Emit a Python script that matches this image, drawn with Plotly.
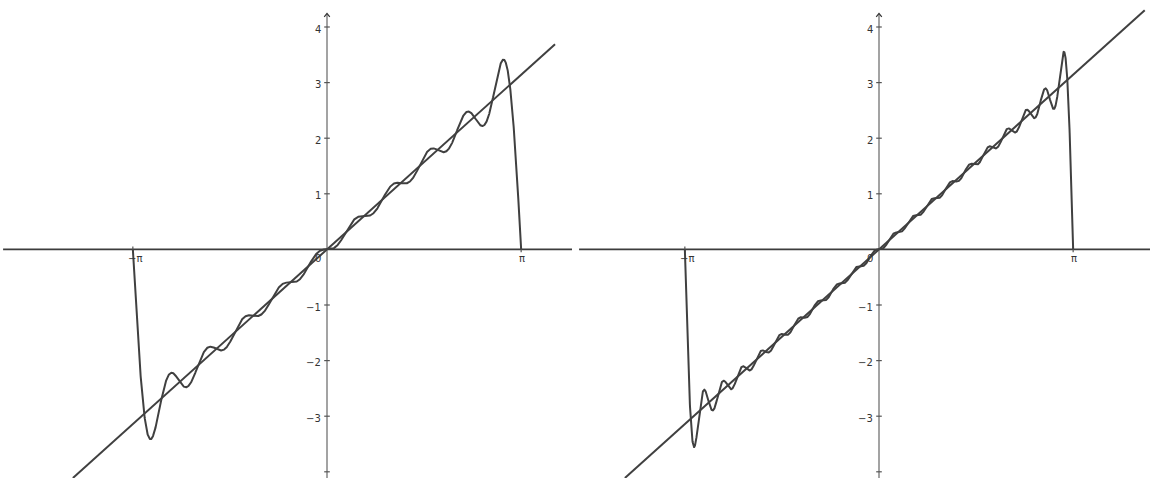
import numpy as np
import plotly.graph_objects as go

# Fourier sine coefficients of f(x)=x on [-pi, pi] (partial sums shown in each panel)
coef_left = [2.0, -1.0, 0.666667, -0.5, 0.4, -0.333333, 0.285714, -0.25, 0.222222, -0.2]
coef_right = [2.0, -1.0, 0.666667, -0.5, 0.4, -0.333333, 0.285714, -0.25, 0.222222, -0.2,
              0.181818, -0.166667, 0.153846, -0.142857, 0.133333, -0.125, 0.117647, -0.111111,
              0.105263, -0.1]

y_ticks = [-4, -3, -2, -1, 1, 2, 3, 4]
y_tick_labels = ["", "−3", "−2", "−1", "1", "2", "3", "4"]
x_tick_vals = [-np.pi, np.pi]
x_tick_labels = ["−π", "π"]
line_end = [3.69, 4.3]   # visible end of the y = x line in each panel

W, H = 1150, 478
PX_X = 61.8   # pixels per x unit
PX_Y = 55.6   # pixels per y unit
Y0_ROW = 249.4

panels = [
    dict(coef=coef_left, dom=(0, 572), origin=327, xname="x", yname="y"),
    dict(coef=coef_right, dom=(576, 1150), origin=879, xname="x2", yname="y2"),
]

fig = go.Figure()
ymax = Y0_ROW / PX_Y
ymin = (Y0_ROW - H) / PX_Y

AXIS_X_COL = "#3c3c3c"
AXIS_Y_COL = "#8c8c8c"
CURVE_COL = "#404040"
FONT = dict(family="DejaVu Sans, Arial, sans-serif", size=10, color="#333333")

for i, p in enumerate(panels):
    xr = ((p["dom"][0] - p["origin"]) / PX_X, (p["dom"][1] - p["origin"]) / PX_X)
    xa, ya = p["xname"], p["yname"]
    # x axis
    fig.add_trace(go.Scatter(x=[xr[0] + 0.05, xr[1]], y=[0, 0], mode="lines",
                             line=dict(color=AXIS_X_COL, width=1.6), xaxis=xa, yaxis=ya,
                             hoverinfo="skip"))
    # y axis
    fig.add_trace(go.Scatter(x=[0, 0], y=[ymin, 4.24], mode="lines",
                             line=dict(color=AXIS_Y_COL, width=1.6), xaxis=xa, yaxis=ya,
                             hoverinfo="skip"))
    # arrow head
    fig.add_trace(go.Scatter(x=[-0.045, 0, 0.045], y=[4.18, 4.245, 4.18], mode="lines",
                             line=dict(color="#333333", width=1.2), xaxis=xa, yaxis=ya,
                             hoverinfo="skip"))
    # y ticks
    fig.add_trace(go.Scatter(x=[0] * len(y_ticks), y=y_ticks, mode="markers",
                             marker=dict(symbol="line-ew", size=4,
                                         line=dict(color="#555555", width=1.2)),
                             xaxis=xa, yaxis=ya, hoverinfo="skip"))
    # x ticks
    fig.add_trace(go.Scatter(x=x_tick_vals, y=[0, 0], mode="markers",
                             marker=dict(symbol="line-ns", size=4,
                                         line=dict(color="#555555", width=1.2)),
                             xaxis=xa, yaxis=ya, hoverinfo="skip"))
    # line y = x
    lx = np.array([ymin, line_end[i]])
    fig.add_trace(go.Scatter(x=lx, y=lx, mode="lines",
                             line=dict(color=CURVE_COL, width=2), xaxis=xa, yaxis=ya,
                             hoverinfo="skip"))
    # partial Fourier sum
    xs = np.linspace(-np.pi, np.pi, 3000)
    ys = np.zeros_like(xs)
    for n, b in enumerate(p["coef"], start=1):
        ys += b * np.sin(n * xs)
    fig.add_trace(go.Scatter(x=xs, y=ys, mode="lines",
                             line=dict(color=CURVE_COL, width=2), xaxis=xa, yaxis=ya,
                             hoverinfo="skip"))
    # labels
    xref = "x" if i == 0 else "x2"
    yref = "y" if i == 0 else "y2"
    for v, t in zip(y_ticks, y_tick_labels):
        if t:
            fig.add_annotation(x=0, y=v, xref=xref, yref=yref, text=t, showarrow=False,
                               xanchor="right", xshift=-4, yshift=-2, font=FONT)
    for v, t in zip(x_tick_vals, x_tick_labels):
        fig.add_annotation(x=v, y=0, xref=xref, yref=yref, text=t, showarrow=False,
                           yanchor="top", yshift=-2, xshift=2 if v < 0 else 1, font=FONT)
    fig.add_annotation(x=0, y=0, xref=xref, yref=yref, text="0", showarrow=False,
                       yanchor="top", xanchor="right", xshift=-4, yshift=-2, font=FONT)

    axis_common = dict(visible=False, showgrid=False, zeroline=False, fixedrange=True)
    dom_x = [p["dom"][0] / W, p["dom"][1] / W]
    key_x = "xaxis" if i == 0 else "xaxis2"
    key_y = "yaxis" if i == 0 else "yaxis2"
    fig.update_layout(**{
        key_x: dict(domain=dom_x, range=list(xr), anchor=ya, **axis_common),
        key_y: dict(domain=[0, 1], range=[ymin, ymax], anchor=xa, **axis_common),
    })

fig.update_layout(width=W, height=H, margin=dict(l=0, r=0, t=0, b=0),
                  paper_bgcolor="white", plot_bgcolor="white", showlegend=False)

fig.write_html("out.html", config={"displayModeBar": False},
               post_script="document.body.style.margin='0';document.body.style.overflow='hidden';")
